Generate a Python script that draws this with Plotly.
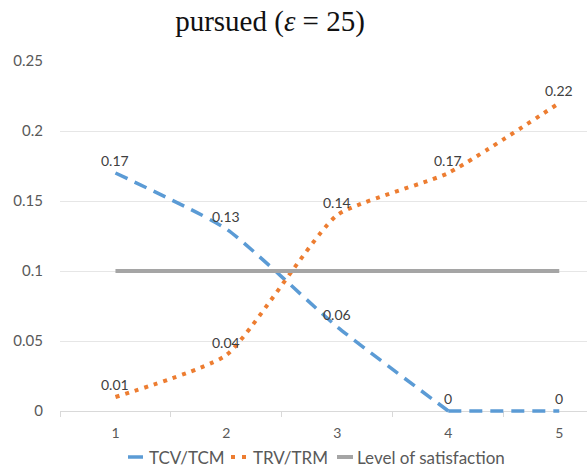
import plotly.graph_objects as go

# Chart data
x_vals = [1, 2, 3, 4, 5]
tcv_tcm = [0.17, 0.13, 0.06, 0, 0]
trv_trm = [0.01, 0.04, 0.14, 0.17, 0.22]
satisfaction = [0.1, 0.1, 0.1, 0.1, 0.1]
y_ticks = [0, 0.05, 0.1, 0.15, 0.2, 0.25]
y_tick_labels = ["0", "0.05", "0.1", "0.15", "0.2", "0.25"]
series_names = ["TCV/TCM", "TRV/TRM", "Level of satisfaction"]

BLUE = "#5B9BD5"
ORANGE = "#ED7D31"
GRAY = "#A5A5A5"
TEXT = "#595959"
LABEL = "#404040"
FONT = "Lato"

# a little room below zero so the flat line at 0 is not clipped
Y_MIN, Y_MAX = -0.005, 0.25

# plot area in pixels: x 60..587, y 61..418
PLOT_L, PLOT_W = 60, 527
PLOT_T, PLOT_B = 61, 418
PLOT_H = PLOT_B - PLOT_T


def px_x(p):
    return (p - PLOT_L) / PLOT_W


def px_y(p):
    return (PLOT_B - p) / PLOT_H


def fmt(v):
    return f"{v:g}"


blue_curve = dict(color=BLUE, width=3.5, dash="13px,8px", shape="spline", smoothing=0.5)
blue_flat = dict(color=BLUE, width=3.5, dash="13px,8px")
orange_curve = dict(color=ORANGE, width=4, dash="4px,6px", shape="spline", smoothing=0.5)
gray_line = dict(color=GRAY, width=4)

fig = go.Figure()
# TCV/TCM: smoothed while falling, straight once it reaches zero
fig.add_trace(go.Scatter(x=x_vals[:4], y=tcv_tcm[:4], name=series_names[0],
                         mode="lines", line=blue_curve, showlegend=False))
fig.add_trace(go.Scatter(x=x_vals[3:], y=tcv_tcm[3:], name=series_names[0],
                         mode="lines", line=blue_flat, showlegend=False))
fig.add_trace(go.Scatter(x=x_vals, y=trv_trm, name=series_names[1],
                         mode="lines", line=orange_curve, showlegend=False))
fig.add_trace(go.Scatter(x=x_vals, y=satisfaction, name=series_names[2],
                         mode="lines", line=gray_line, showlegend=False))

annotations = []
# value labels above the two measured series
for ys in (tcv_tcm, trv_trm):
    for xv, yv in zip(x_vals, ys):
        annotations.append(dict(
            x=xv, y=yv, xref="x", yref="y", text=fmt(yv), showarrow=False,
            yshift=13, font=dict(family=FONT, size=14, color=LABEL),
        ))

# legend row under the axis
legend_y = px_y(457)
legend_items = [
    (series_names[0], dict(color=BLUE, width=3.5), 128, 143, 147),
    (series_names[1], dict(color=ORANGE, width=4, dash="4px,7px"), 231, 247, 251),
    (series_names[2], dict(color=GRAY, width=4), 337, 353, 355),
]
shapes = []
for name, lstyle, x0, x1, tx in legend_items:
    shapes.append(dict(
        type="line", xref="paper", yref="paper",
        x0=px_x(x0), x1=px_x(x1), y0=legend_y, y1=legend_y, line=lstyle,
    ))
    annotations.append(dict(
        x=px_x(tx), y=legend_y, xref="paper", yref="paper", text=name,
        showarrow=False, xanchor="left", yanchor="middle",
        font=dict(family=FONT, size=17, color=TEXT),
    ))

fig.update_layout(
    width=587, height=469,
    margin=dict(l=PLOT_L, r=0, t=PLOT_T, b=469 - PLOT_B),
    paper_bgcolor="white", plot_bgcolor="white",
    font=dict(family=FONT, color=TEXT, size=14),
    title=dict(
        text="pursued (<i>ε</i> = 25)",
        font=dict(family="Liberation Serif", size=29, color="#111111"),
        x=0.46, xanchor="center", y=0.955, yanchor="middle",
    ),
    showlegend=False,
    annotations=annotations,
    shapes=shapes,
    xaxis=dict(
        range=[0.5, 5.25], tickvals=x_vals, ticktext=[str(v) for v in x_vals],
        anchor="free", position=(0 - Y_MIN) / (Y_MAX - Y_MIN),
        showgrid=False, zeroline=False, layer="below traces",
        showline=True, linecolor="#D9D9D9", linewidth=1,
        ticks="", ticklabelstandoff=9,
        tickfont=dict(family=FONT, size=14, color=TEXT),
        minor=dict(tickvals=[0.5, 1.5, 2.5, 3.5, 4.5], ticks="outside",
                   ticklen=5, tickcolor="#D9D9D9", showgrid=False),
    ),
    yaxis=dict(
        range=[Y_MIN, Y_MAX], tickvals=y_ticks, ticktext=y_tick_labels,
        showgrid=True, gridcolor="#E6E6E6", gridwidth=1,
        zeroline=False, showline=False, ticks="",
        ticklabelstandoff=16,
        tickfont=dict(family=FONT, size=15, color=TEXT),
    ),
)

fig.write_html("out.html")
